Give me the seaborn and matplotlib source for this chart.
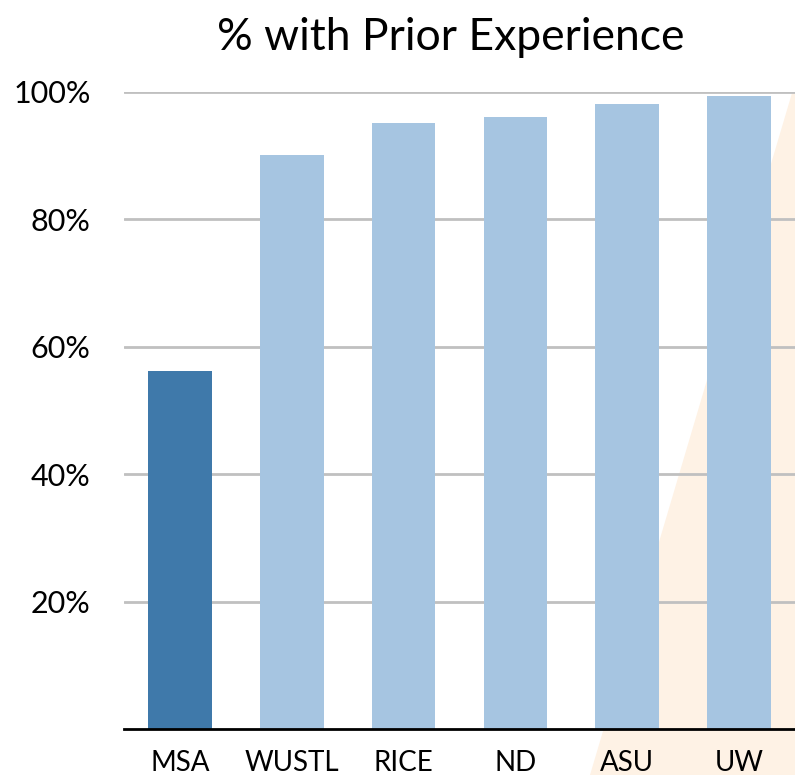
import matplotlib
matplotlib.use("agg")
import matplotlib.pyplot as plt
from matplotlib.patches import Polygon
import pandas as pd
import seaborn as sns

schools = ["MSA", "WUSTL", "RICE", "ND", "ASU", "UW"]
pct_prior = [56.2, 90.1, 95.1, 96.1, 98.1, 99.4]
bar_colors = ["#3F79AA", "#A6C5E1", "#A6C5E1", "#A6C5E1", "#A6C5E1", "#A6C5E1"]
y_ticks = [20, 40, 60, 80, 100]
y_labels = ["20%", "40%", "60%", "80%", "100%"]

df = pd.DataFrame({"school": schools, "pct": pct_prior})

sns.set_style("white")
plt.rcParams["font.family"] = ["Lato", "DejaVu Sans"]

fig = plt.figure(figsize=(7.95, 7.75), dpi=100)

# soft peach wedge in the background
wedge = Polygon([(0.996, 0.88), (1.0, 0.88), (1.0, 0.0), (0.742, 0.0)],
                closed=True, transform=fig.transFigure,
                facecolor="#FEF2E5", edgecolor="none", zorder=-5)
fig.patches.append(wedge)

ax = fig.add_axes([0.156, 0.0594, 0.844, 0.822])
ax.patch.set_alpha(0)

sns.barplot(data=df, x="school", y="pct", hue="school", palette=bar_colors,
            legend=False, width=0.57, saturation=1, linewidth=0,
            ax=ax, zorder=3)

ax.set_ylim(0, 100)
ax.set_xlim(-0.5, 5.5)
ax.set_yticks(y_ticks)
ax.set_yticklabels(y_labels, fontsize=22)
ax.tick_params(axis="x", labelsize=20, length=0, pad=15, labelcolor="black")
ax.tick_params(axis="y", length=0, pad=24, labelcolor="black")
ax.yaxis.grid(True, color="#C0C0C0", linewidth=2)
ax.set_axisbelow(True)
ax.set_xlabel("")
ax.set_ylabel("")

for side in ["top", "right", "left"]:
    ax.spines[side].set_visible(False)
ax.spines["bottom"].set_color("black")
ax.spines["bottom"].set_linewidth(2)
ax.spines["bottom"].set_zorder(4)

fig.text(0.567, 0.951, "% with Prior Experience", fontsize=32,
         ha="center", va="center", color="black")

fig.savefig("out.png", dpi=100)
